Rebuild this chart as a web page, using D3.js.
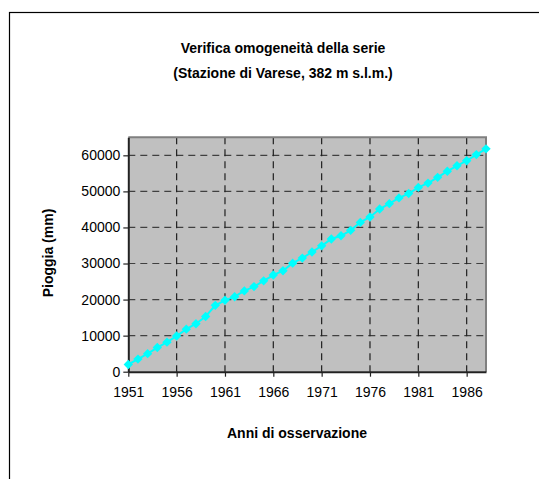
<!DOCTYPE html>
<html>
<head>
<meta charset="utf-8">
<script src="https://cdn.jsdelivr.net/npm/d3@7"></script>
<style>
	body { margin: 0; background: #fff; }
	text { font-family: "Liberation Sans", Arial, sans-serif; fill: #000; }
	.title { font-weight: bold; font-size: 14px; }
	.tick-label { font-size: 14px; }
</style>
</head>
<body>
<div id="chart"></div>
<script>
// Data: cumulative rainfall at Varese
var years = [1951, 1952, 1953, 1954, 1955, 1956, 1957, 1958, 1959, 1960,
	1961, 1962, 1963, 1964, 1965, 1966, 1967, 1968, 1969, 1970,
	1971, 1972, 1973, 1974, 1975, 1976, 1977, 1978, 1979, 1980,
	1981, 1982, 1983, 1984, 1985, 1986, 1987, 1988];
var rainCum = [2000, 3500, 5000, 6700, 8200, 9900, 11800, 13300, 15300, 18400,
	19800, 20800, 22400, 23600, 25200, 26800, 28000, 30100, 31500, 33200,
	34900, 36800, 37700, 39200, 41400, 42900, 45100, 46600, 48200, 49400,
	51100, 52300, 53900, 55600, 57100, 58500, 60200, 61800];
var yTicks = [0, 10000, 20000, 30000, 40000, 50000, 60000];
var xTickYears = [1951, 1956, 1961, 1966, 1971, 1976, 1981, 1986];
var titleLines = ["Verifica omogeneità della serie", "(Stazione di Varese, 382 m s.l.m.)"];

// Global variables
var width = 539,
	height = 479,
	plot = { left: 128.3, right: 486, top: 137.3, bottom: 371.7 },
	svg,
	x,
	y;

function init() {
	svg = d3.select("#chart")
		.append("svg")
		.attr("width", width)
		.attr("height", height);

	// outer chart frame (runs off the right and bottom of the picture)
	svg.append("rect")
		.attr("x", 9.5)
		.attr("y", 12.5)
		.attr("width", 600)
		.attr("height", 600)
		.attr("fill", "none")
		.attr("stroke", "#000")
		.attr("stroke-width", 1.2);

	x = d3.scalePoint().domain(years).range([plot.left, plot.right]);
	y = d3.scaleLinear().domain([0, 65000]).range([plot.bottom, plot.top]);

	drawPlotArea();
	drawAxes();
	drawSeries();
	drawTitles();
}

function drawPlotArea() {
	svg.append("rect")
		.attr("x", plot.left)
		.attr("y", plot.top)
		.attr("width", plot.right - plot.left)
		.attr("height", plot.bottom - plot.top)
		.attr("fill", "#c0c0c0");

	// horizontal dashed grid
	svg.append("g").selectAll("line")
		.data(yTicks.filter(function(d) { return d > 0; }))
		.enter().append("line")
		.attr("x1", plot.left)
		.attr("x2", plot.right)
		.attr("y1", function(d) { return y(d); })
		.attr("y2", function(d) { return y(d); })
		.attr("stroke", "#404040")
		.attr("stroke-width", 1.2)
		.attr("stroke-dasharray", "7,5");

	// vertical dashed grid
	svg.append("g").selectAll("line")
		.data(xTickYears.slice(1))
		.enter().append("line")
		.attr("x1", function(d) { return x(d); })
		.attr("x2", function(d) { return x(d); })
		.attr("y1", plot.top)
		.attr("y2", plot.bottom)
		.attr("stroke", "#202020")
		.attr("stroke-width", 1.2)
		.attr("stroke-dasharray", "7,5");

	// top and right border in gray
	svg.append("path")
		.attr("d", "M" + plot.left + "," + plot.top + "H" + plot.right + "V" + plot.bottom)
		.attr("fill", "none")
		.attr("stroke", "#808080")
		.attr("stroke-width", 2);
}

function drawAxes() {
	var yAxis = d3.axisLeft(y).tickValues(yTicks).tickFormat(d3.format("d"))
		.tickSize(5).tickPadding(3).tickSizeOuter(0);
	var xAxis = d3.axisBottom(x).tickValues(xTickYears).tickFormat(d3.format("d"))
		.tickSize(5).tickPadding(10).tickSizeOuter(0);

	var gy = svg.append("g")
		.attr("transform", "translate(" + plot.left + ",0)")
		.call(yAxis);
	var gx = svg.append("g")
		.attr("transform", "translate(0," + plot.bottom + ")")
		.call(xAxis);

	[gx, gy].forEach(function(g) {
		g.attr("font-family", null).attr("font-size", null);
		g.select(".domain").attr("stroke", "#222").attr("stroke-width", 2);
		g.selectAll(".tick line").attr("stroke", "#222").attr("stroke-width", 1.2);
		g.selectAll(".tick text")
			.attr("class", "tick-label")
			.style("fill", "#000");
	});
}

function drawSeries() {
	var line = d3.line()
		.x(function(d, i) { return x(years[i]); })
		.y(function(d) { return y(d); });

	svg.append("path")
		.datum(rainCum)
		.attr("d", line)
		.attr("fill", "none")
		.attr("stroke", "#00ffff")
		.attr("stroke-width", 2);

	// diamond markers
	var diamond = d3.symbol().type(d3.symbolSquare).size(44);

	svg.append("g").selectAll("path")
		.data(rainCum)
		.enter().append("path")
		.attr("d", diamond)
		.attr("transform", function(d, i) {
			return "translate(" + x(years[i]) + "," + y(d) + ") rotate(45)";
		})
		.attr("fill", "#00ffff");
}

function drawTitles() {
	svg.append("g").selectAll("text")
		.data(titleLines)
		.enter().append("text")
		.attr("class", "title")
		.attr("x", 283)
		.attr("y", function(d, i) { return 53 + i * 25; })
		.attr("text-anchor", "middle")
		.text(function(d) { return d; });

	svg.append("text")
		.attr("class", "title")
		.attr("transform", "translate(53,253) rotate(-90)")
		.attr("text-anchor", "middle")
		.text("Pioggia (mm)");

	svg.append("text")
		.attr("class", "title")
		.attr("x", 297)
		.attr("y", 438)
		.attr("text-anchor", "middle")
		.text("Anni di osservazione");
}

window.onload = init;
</script>
</body>
</html>
